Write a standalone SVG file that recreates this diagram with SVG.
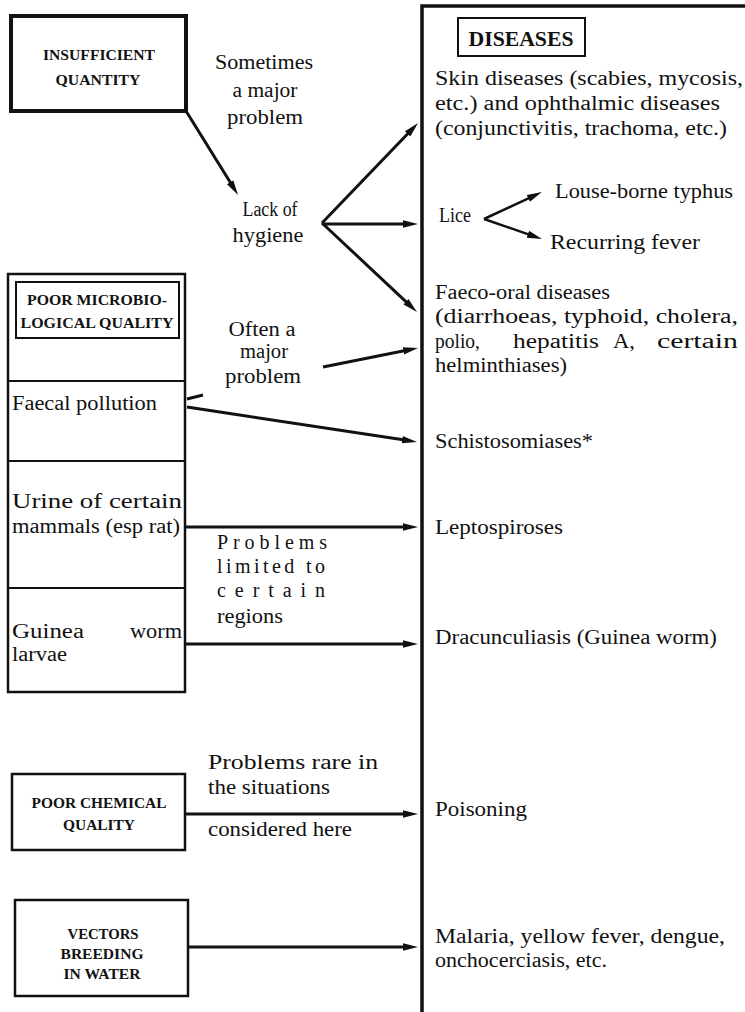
<svg xmlns="http://www.w3.org/2000/svg" width="745" height="1012" viewBox="0 0 745 1012">
<defs>
<marker id="ah" markerUnits="userSpaceOnUse" markerWidth="16" markerHeight="10" refX="6" refY="5" orient="auto"><path d="M0,1.3 L15,5 L0,8.7 z" fill="#111"/></marker>
</defs>
<style>
.t{font-family:"Liberation Serif","Times New Roman",serif;font-size:20px;fill:#111}
.m{text-anchor:middle}
.b{font-family:"Liberation Serif","Times New Roman",serif;font-size:14px;font-weight:bold;fill:#111;text-anchor:middle}
.box{fill:none;stroke:#111;stroke-width:2.5}
.c{fill:none;stroke:#111;stroke-width:3;marker-end:url(#ah)}
</style>
<rect width="745" height="1012" fill="#fff"/>

<g id="insufficient-quantity">
<rect class="box" x="11" y="16" width="175" height="95" style="stroke-width:4"/>
<text class="b" x="99" y="60" textLength="112" lengthAdjust="spacingAndGlyphs">INSUFFICIENT</text>
<text class="b" x="98" y="85" textLength="85" lengthAdjust="spacingAndGlyphs">QUANTITY</text>
</g>

<g id="label-sometimes">
<text class="t m" x="264" y="69" textLength="98" lengthAdjust="spacingAndGlyphs">Sometimes</text>
<text class="t m" x="265" y="97" textLength="65" lengthAdjust="spacingAndGlyphs">a major</text>
<text class="t m" x="265" y="124" textLength="76" lengthAdjust="spacingAndGlyphs">problem</text>
</g>

<g id="lack-of-hygiene">
<text class="t m" x="270" y="216" textLength="55" lengthAdjust="spacingAndGlyphs">Lack of</text>
<text class="t m" x="268" y="242" textLength="71" lengthAdjust="spacingAndGlyphs">hygiene</text>
</g>

<g id="label-often">
<text class="t m" x="262" y="336" textLength="67" lengthAdjust="spacingAndGlyphs">Often a</text>
<text class="t m" x="264" y="358" textLength="48" lengthAdjust="spacingAndGlyphs">major</text>
<text class="t m" x="263" y="383" textLength="76" lengthAdjust="spacingAndGlyphs">problem</text>
</g>

<g id="poor-microbiological-quality">
<rect class="box" x="8" y="274" width="177" height="418"/>
<rect class="box" x="16" y="282" width="163" height="56" style="stroke-width:2"/>
<text class="b" x="97" y="305" textLength="140" lengthAdjust="spacingAndGlyphs">POOR MICROBIO-</text>
<text class="b" x="97" y="328" textLength="153" lengthAdjust="spacingAndGlyphs">LOGICAL  QUALITY</text>
<path class="box" d="M8,381 H185 M8,461 H185 M8,588 H185" style="stroke-width:2"/>
</g>

<g id="faecal-pollution">
<text class="t" x="12" y="410" textLength="145" lengthAdjust="spacingAndGlyphs">Faecal pollution</text>
</g>
<g id="urine">
<text class="t" x="12" y="508" textLength="170" lengthAdjust="spacingAndGlyphs">Urine of certain</text>
<text class="t" x="12" y="533" textLength="168" lengthAdjust="spacingAndGlyphs">mammals (esp rat)</text>
</g>
<g id="guinea-worm-larvae">
<text class="t" x="12" y="638" textLength="72" lengthAdjust="spacingAndGlyphs">Guinea</text>
<text class="t" x="182" y="638" text-anchor="end" textLength="52" lengthAdjust="spacingAndGlyphs">worm</text>
<text class="t" x="12" y="661" textLength="55" lengthAdjust="spacingAndGlyphs">larvae</text>
</g>

<g id="label-limited">
<text class="t" x="217" y="549" textLength="110" lengthAdjust="spacing">Problems</text>
<text class="t" x="217" y="573" textLength="108" lengthAdjust="spacing">limited to</text>
<text class="t" x="217" y="597" textLength="108" lengthAdjust="spacing">certain</text>
<text class="t" x="217" y="623" textLength="66" lengthAdjust="spacingAndGlyphs">regions</text>
</g>

<g id="poor-chemical-quality">
<rect class="box" x="12" y="774" width="173" height="76"/>
<text class="b" x="99" y="808" textLength="135" lengthAdjust="spacingAndGlyphs">POOR CHEMICAL</text>
<text class="b" x="99" y="830" textLength="72" lengthAdjust="spacingAndGlyphs">QUALITY</text>
</g>

<g id="label-rare">
<text class="t" x="208" y="769" textLength="170" lengthAdjust="spacingAndGlyphs">Problems rare in</text>
<text class="t" x="208" y="794" textLength="122" lengthAdjust="spacingAndGlyphs">the situations</text>
<text class="t" x="208" y="836" textLength="144" lengthAdjust="spacingAndGlyphs">considered here</text>
</g>

<g id="vectors-breeding">
<rect class="box" x="15" y="900" width="173" height="96"/>
<text class="b" x="103" y="939" textLength="71" lengthAdjust="spacingAndGlyphs">VECTORS</text>
<text class="b" x="102" y="959" textLength="83" lengthAdjust="spacingAndGlyphs">BREEDING</text>
<text class="b" x="102" y="979" textLength="77" lengthAdjust="spacingAndGlyphs">IN WATER</text>
</g>

<g id="diseases">
<path d="M422,1012 V6 H745" fill="none" stroke="#111" stroke-width="3.5"/>
<rect class="box" x="458" y="18" width="127" height="38" style="stroke-width:2"/>
<text class="t m" x="521" y="46" style="font-size:21px;font-weight:bold" textLength="105" lengthAdjust="spacingAndGlyphs">DISEASES</text>
</g>

<g id="skin-diseases">
<text class="t" x="435" y="85" textLength="308" lengthAdjust="spacingAndGlyphs">Skin diseases (scabies, mycosis,</text>
<text class="t" x="435" y="110" textLength="285" lengthAdjust="spacingAndGlyphs">etc.) and ophthalmic diseases</text>
<text class="t" x="435" y="135" textLength="292" lengthAdjust="spacingAndGlyphs">(conjunctivitis, trachoma, etc.)</text>
</g>

<g id="lice">
<text class="t" x="439" y="222" textLength="32" lengthAdjust="spacingAndGlyphs">Lice</text>
</g>
<g id="louse-borne-typhus">
<text class="t" x="555" y="198" textLength="178" lengthAdjust="spacingAndGlyphs">Louse-borne typhus</text>
</g>
<g id="recurring-fever">
<text class="t" x="550" y="249" textLength="150" lengthAdjust="spacingAndGlyphs">Recurring fever</text>
</g>

<g id="faeco-oral">
<text class="t" x="435" y="299" textLength="175" lengthAdjust="spacingAndGlyphs">Faeco-oral diseases</text>
<text class="t" x="435" y="323" textLength="303" lengthAdjust="spacingAndGlyphs">(diarrhoeas, typhoid, cholera,</text>
<text class="t" x="435" y="348" textLength="45" lengthAdjust="spacingAndGlyphs">polio,</text>
<text class="t" x="513" y="348" textLength="86" lengthAdjust="spacingAndGlyphs">hepatitis</text>
<text class="t" x="613" y="348" textLength="22" lengthAdjust="spacingAndGlyphs">A,</text>
<text class="t" x="738" y="348" text-anchor="end" textLength="81" lengthAdjust="spacingAndGlyphs">certain</text>
<text class="t" x="435" y="372" textLength="132" lengthAdjust="spacingAndGlyphs">helminthiases)</text>
</g>

<g id="schistosomiases">
<text class="t" x="435" y="448" textLength="158" lengthAdjust="spacingAndGlyphs">Schistosomiases*</text>
</g>
<g id="leptospiroses">
<text class="t" x="435" y="534" textLength="128" lengthAdjust="spacingAndGlyphs">Leptospiroses</text>
</g>
<g id="dracunculiasis">
<text class="t" x="435" y="644" textLength="282" lengthAdjust="spacingAndGlyphs">Dracunculiasis (Guinea worm)</text>
</g>
<g id="poisoning">
<text class="t" x="435" y="816" textLength="92" lengthAdjust="spacingAndGlyphs">Poisoning</text>
</g>
<g id="malaria">
<text class="t" x="435" y="943" textLength="290" lengthAdjust="spacingAndGlyphs">Malaria, yellow fever, dengue,</text>
<text class="t" x="435" y="967" textLength="172" lengthAdjust="spacingAndGlyphs">onchocerciasis, etc.</text>
</g>

<g id="connectors">
<path class="c" d="M186,111 L233.3,187.3"/>
<path class="c" d="M322,223 L411.8,129.5"/>
<path class="c" d="M322,224 L409,224"/>
<path class="c" d="M322,223 L410.4,305.8"/>
<path class="c" d="M323,367 L409.2,349.8"/>
<path d="M187,399 L203,395" fill="none" stroke="#111" stroke-width="3"/>
<path class="c" d="M187,407 L408.1,440.6"/>
<path class="c" d="M186,527 L409,527"/>
<path class="c" d="M186,644 L409,644"/>
<path class="c" d="M186,814 L409,814"/>
<path class="c" d="M189,947 L409,947"/>
<path class="c" d="M484,219 L533.8,195.8" style="stroke-width:2.5"/>
<path class="c" d="M484,219 L533.5,236.1" style="stroke-width:2.5"/>
</g>
</svg>
